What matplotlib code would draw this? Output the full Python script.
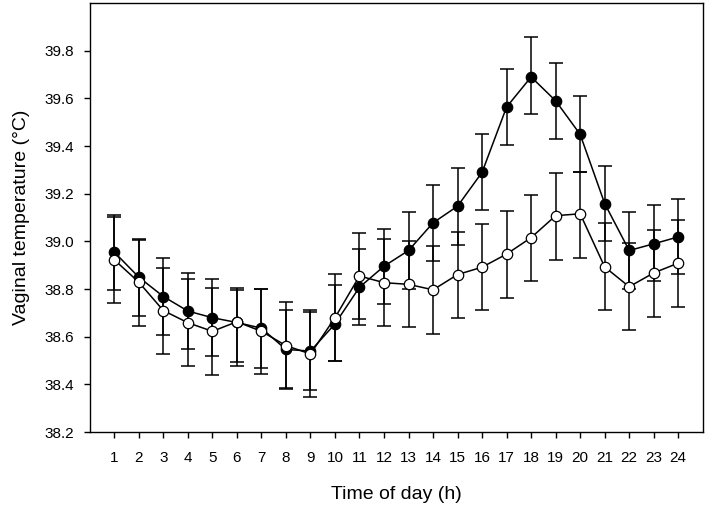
import matplotlib.pyplot as plt
import numpy as np

# ---- data ----
hours = list(range(1, 25))

# filled circles
black_mean = [38.955, 38.85, 38.769, 38.708, 38.68, 38.66, 38.636, 38.547, 38.54, 38.654,
              38.808, 38.896, 38.962, 39.078, 39.148, 39.29, 39.564, 39.69, 39.59, 39.449,
              39.159, 38.962, 38.99, 39.019]
black_upper = [39.112, 39.01, 38.93, 38.869, 38.843, 38.804, 38.80, 38.712, 38.705, 38.818,
               38.968, 39.054, 39.123, 39.238, 39.308, 39.452, 39.725, 39.857, 39.75, 39.609,
               39.318, 39.124, 39.151, 39.179]
black_lower = [38.795, 38.686, 38.608, 38.549, 38.52, 38.495, 38.471, 38.382, 38.375, 38.498,
               38.648, 38.738, 38.80, 38.917, 38.987, 39.13, 39.406, 39.536, 39.43, 39.291,
               39.0, 38.80, 38.833, 38.863]

# open circles
white_mean = [38.923, 38.829, 38.71, 38.659, 38.623, 38.663, 38.623, 38.563, 38.528, 38.68,
              38.855, 38.827, 38.82, 38.797, 38.861, 38.892, 38.947, 39.016, 39.108, 39.116,
              38.893, 38.81, 38.868, 38.909]
white_upper = [39.103, 39.004, 38.89, 38.842, 38.804, 38.798, 38.80, 38.745, 38.711, 38.864,
               39.036, 39.01, 39.0, 38.979, 39.04, 39.072, 39.127, 39.196, 39.287, 39.291,
               39.077, 38.995, 39.049, 39.091]
white_lower = [38.743, 38.647, 38.528, 38.476, 38.441, 38.479, 38.443, 38.386, 38.348, 38.50,
               38.673, 38.645, 38.64, 38.613, 38.679, 38.713, 38.763, 38.834, 38.923, 38.93,
               38.713, 38.63, 38.684, 38.727]

y_ticks = [38.2, 38.4, 38.6, 38.8, 39.0, 39.2, 39.4, 39.6, 39.8]

plt.rcParams['font.family'] = ['Liberation Sans', 'DejaVu Sans']

fig = plt.figure(figsize=(7.07, 5.09), dpi=100)
ax = fig.add_axes([0.127, 0.151, 0.867, 0.843])


def draw(mean, upper, lower, face, z):
    mean = np.array(mean)
    err = [mean - np.array(lower), np.array(upper) - mean]
    ax.errorbar(hours, mean, yerr=err, fmt='none', ecolor='black', elinewidth=1.1,
                capsize=4.8, capthick=1.1, zorder=z)
    ax.plot(hours, mean, color='black', linewidth=1.1, marker='o', markersize=7.5,
            markerfacecolor=face, markeredgecolor='black', markeredgewidth=0.9, zorder=z + 1)


draw(black_mean, black_upper, black_lower, 'black', 2)
draw(white_mean, white_upper, white_lower, 'white', 4)

ax.set_xlim(0, 25)
ax.set_ylim(38.2, 40.0)
ax.set_xticks(hours)
ax.set_yticks(y_ticks)
ax.set_yticklabels([f"{v:.1f}" for v in y_ticks])
ax.tick_params(axis='both', direction='out', length=4.5, width=1.0, labelsize=11, pad=6.5)
ax.tick_params(axis='x', pad=9)
for s in ax.spines.values():
    s.set_linewidth(1.0)

ax.set_xlabel('Time of day (h)', fontsize=14, labelpad=15)
ax.set_ylabel('Vaginal temperature (°C)', fontsize=14, labelpad=11)

fig.savefig('out.png', dpi=100)
